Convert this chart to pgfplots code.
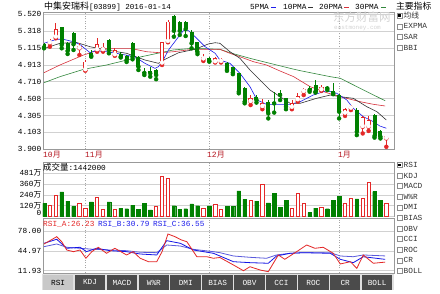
\documentclass[border=0pt]{standalone}
\usepackage{fontspec}
\setmainfont{Liberation Mono}
\newfontfamily\cjk{Noto Sans CJK SC}
\usepackage{pgfplots}
\usepackage{pgfplotstable}
\pgfplotsset{compat=1.18}
\definecolor{cred}{RGB}{228,40,40}
\definecolor{cgreen}{RGB}{0,128,0}
\definecolor{ma5}{RGB}{30,30,235}
\definecolor{ma10}{RGB}{50,50,50}
\definecolor{ma20}{RGB}{215,50,60}
\definecolor{ma30}{RGB}{50,135,60}
\definecolor{mon}{RGB}{180,20,30}
\definecolor{tabdark}{RGB}{75,75,75}
\definecolor{tablight}{RGB}{200,200,200}
\newcommand\tf{\fontsize{7.8}{9}\selectfont}

\pgfplotstableread{
i O H L C
1 5.173 5.218 5.129 5.203
2 5.242 5.410 5.230 5.338
6 5.110 5.170 5.030 5.140
7 4.850 4.970 4.842 4.950
9 5.090 5.237 5.069 5.158
10 5.090 5.170 5.070 5.129
12 5.030 5.110 5.020 5.090
20 4.930 5.190 4.910 5.182
21 5.189 5.449 5.182 5.429
27 4.980 5.040 4.958 5.010
29 4.946 5.000 4.940 4.990
30 4.950 4.990 4.940 4.980
35 4.470 4.550 4.430 4.518
37 4.410 4.500 4.380 4.458
42 4.400 4.490 4.380 4.458
43 4.490 4.570 4.470 4.540
44 4.590 4.640 4.550 4.620
47 4.610 4.670 4.600 4.650
51 4.330 4.400 4.300 4.380
52 4.390 4.430 4.370 4.420
54 4.170 4.300 4.090 4.290
55 4.170 4.300 4.120 4.250
58 4.030 4.065 3.930 4.060
}\updata

\pgfplotstableread{
i O H L C
0 5.158 5.170 5.110 5.122
3 5.362 5.369 5.110 5.150
4 5.177 5.180 5.042 5.078
5 5.290 5.300 5.090 5.158
8 5.050 5.090 5.009 5.021
11 5.209 5.220 5.050 5.090
13 5.040 5.060 5.000 5.010
14 5.018 5.030 4.946 4.970
15 5.170 5.190 4.978 5.009
16 5.009 5.020 4.850 4.890
17 4.830 4.874 4.790 4.815
18 4.838 4.890 4.770 4.810
19 4.850 4.860 4.740 4.790
22 5.497 5.509 5.249 5.320
23 5.429 5.440 5.270 5.320
24 5.429 5.440 5.257 5.340
25 5.309 5.330 5.110 5.170
26 5.185 5.190 5.040 5.066
28 4.993 5.000 4.950 4.958
31 4.930 4.940 4.840 4.850
32 4.882 4.890 4.800 4.818
33 4.810 4.820 4.571 4.590
34 4.631 4.650 4.451 4.470
36 4.523 4.550 4.460 4.490
38 4.470 4.490 4.270 4.330
39 4.470 4.590 4.340 4.450
40 4.570 4.610 4.490 4.550
41 4.511 4.520 4.380 4.410
45 4.630 4.660 4.590 4.610
46 4.670 4.730 4.580 4.590
48 4.650 4.660 4.610 4.630
49 4.600 4.700 4.560 4.570
50 4.550 4.560 4.270 4.350
53 4.370 4.390 4.070 4.110
56 4.310 4.320 4.040 4.060
57 4.120 4.130 4.030 4.050
}\downdata

\pgfplotstableread{
i v
0 142
3 273
4 169
5 112
8 162
11 162
13 92
14 85
15 123
16 81
17 142
18 73
22 119
23 81
24 85
25 139
26 119
28 116
31 112
32 112
33 285
34 189
36 169
38 150
39 254
40 104
41 181
45 42
46 92
48 85
49 181
50 227
53 196
56 277
57 181
}\volg

\pgfplotstableread{
i v
1 123
2 235
6 142
7 85
9 212
10 81
12 73
19 112
20 447
21 427
27 89
29 139
30 73
35 181
37 354
42 92
43 254
44 150
47 104
51 150
52 196
54 196
55 381
58 144.2
}\volr

\pgfplotsset{panel/.style={
  scale only axis, anchor=south west, width=351bp,
  xmin=-0.17, xmax=59.3,
  axis line style={draw=black!40},
  major tick length=0pt,
  xtick={7,28,50}, xticklabels={,,},
  xmajorgrids, ymajorgrids,
  x grid style={black!35, dash pattern=on 1bp off 1.5bp},
  y grid style={black!18},
  yticklabel style={font=\tf, text=black, inner sep=1.5bp},
}}
\pgfplotsset{cndl/.style={only marks, mark=none, error bars/.cd, y dir=plus, y explicit, error mark=none,
  error bar style={line width=#1}}}

\begin{document}
\begin{tikzpicture}
\useasboundingbox (0,0) rectangle (440bp,294bp);
\fill[white] (0,0) rectangle (440bp,294bp);

% ---------------- main price panel
\begin{axis}[panel, at={(43bp,144.7bp)}, height=137.3bp,
  ymin=3.9, ymax=5.545,
  ytick={3.9,4.1025,4.305,4.5075,4.71,4.9125,5.115,5.3175,5.52},
  yticklabels={3.900,4.103,4.305,4.508,4.710,4.913,5.115,5.318,5.520}]
% moving averages
\addplot[ma30, line width=0.6bp] table {
x y
0 4.698
2.7 4.770
6.7 4.858
10.6 4.910
15.1 4.988
19.7 5.057
21.9 5.090
25.3 5.110
29.8 5.098
31.5 5.057
34.9 4.990
38.3 4.930
41.7 4.870
43.4 4.842
48.5 4.770
50.2 4.751
54.7 4.590
57.8 4.482
};
\addplot[ma20, line width=0.6bp] table {
x y
0 4.818
2.7 4.910
6.7 5.030
8.4 5.069
10.6 5.110
14.6 5.110
17.4 5.069
19.7 5.057
21.9 5.069
25.3 5.098
29.8 5.098
31.5 5.050
33.2 5.009
35.5 4.949
37.7 4.910
40.0 4.838
42.3 4.770
45.1 4.650
47.9 4.578
50.2 4.530
53.6 4.470
55.8 4.439
57.8 4.419
};
\addplot[ma10, line width=0.6bp] table {
x y
0 5.107
2.7 5.170
5.5 5.180
7.8 5.129
10.6 5.090
14.0 5.050
17.1 4.970
19.4 4.930
20.5 4.978
22.8 5.057
25.6 5.098
27.8 5.161
29.0 5.177
29.8 5.170
31.5 5.069
33.2 4.990
34.9 4.850
36.6 4.730
38.3 4.610
40.0 4.530
41.7 4.451
43.4 4.451
46.2 4.511
48.5 4.550
50.2 4.530
52.4 4.511
54.7 4.410
56.4 4.351
58 4.251
};
\addplot[ma5, line width=0.6bp] table {
x y
0 5.170
2.15 5.218
3.27 5.218
4.97 5.189
6.1 5.155
7.8 5.057
8.64 5.081
10.6 5.069
12.9 5.042
14.6 5.018
15.4 5.009
17.1 4.930
18.8 4.870
19.4 4.890
20.2 4.970
21.1 5.090
22.8 5.249
23.6 5.321
24.5 5.321
25.6 5.249
27.3 5.129
29.0 5.050
29.8 4.970
31.5 4.930
33.2 4.810
34.9 4.650
36.1 4.491
37.7 4.439
41.7 4.439
43.4 4.470
45.6 4.550
47.9 4.602
49.6 4.571
51.3 4.491
52.4 4.391
54.1 4.291
55.8 4.231
56.9 4.179
58 4.152
};
% wicks
\addplot[cgreen, cndl=0.7bp]
  table[x=i, y=L, y error expr=\thisrow{H}-\thisrow{L}] \downdata;
\addplot[cred, cndl=0.7bp]
  table[x=i, y=L, y error expr=\thisrow{H}-\thisrow{L}] \updata;
% bodies
\addplot[cgreen, cndl=4bp]
  table[x=i, y=C, y error expr=\thisrow{O}-\thisrow{C}] \downdata;
\addplot[cred, cndl=4.2bp]
  table[x=i, y=O, y error expr=\thisrow{C}-\thisrow{O}] \updata;
\addplot[white, cndl=2.6bp]
  table[x=i, y expr=\thisrow{O}+0.0096, y error expr=\thisrow{C}-\thisrow{O}-0.0192] \updata;
\end{axis}

% ---------------- volume panel
\begin{axis}[panel, at={(43bp,77.7bp)}, height=54.3bp,
  ymin=0, ymax=607.6,
  ytick={120,240,360,481},
  yticklabels={120{\cjk 万},240{\cjk 万},360{\cjk 万},481{\cjk 万}},
  extra y ticks={0}, extra y tick labels={0},
  extra y tick style={yticklabel style={yshift=3bp}}]
\addplot[ybar, bar shift=0pt, bar width=3.6bp, fill=cgreen, draw=cgreen, line width=0.3bp] table[x=i,y=v] \volg;
\addplot[ybar, bar shift=0pt, bar width=3.4bp, fill=white, draw=cred, line width=0.7bp] table[x=i,y=v] \volr;
\end{axis}

% ---------------- RSI panel
\begin{axis}[panel, at={(43bp,21bp)}, height=55bp,
  ymin=8.1, ymax=99.6,
  ytick={11.93,44.97,78},
  yticklabels={11.93,44.97,78.00}]
\addplot[color={rgb,255:red,90;green,90;blue,220}, line width=0.8bp] table {
x y
0 51.9
2.15 56.4
3.85 50.9
6.1 49.2
8.4 47.5
11.2 46.4
14 45.2
16.3 42.6
19.1 41.9
20.8 54.7
23.1 53.0
25.3 47.5
28.7 43.6
29.8 41.9
32.1 36.4
34.9 34.2
37.7 32.6
39.4 38.1
41.7 40.9
44 41.9
48.5 41.9
50.2 36.4
52.4 35.2
54.1 38.1
57.8 36.5
};
\addplot[color={rgb,255:red,20;green,20;blue,230}, line width=0.8bp] table {
x y
0 57.5
2.15 64.2
3.85 49.2
6.1 50.9
7.2 43.6
8.9 49.2
11.2 45.2
14 43.6
16.3 39.7
19.1 38.1
20.8 61.9
23.1 57.5
25.3 46.4
28.7 40.9
29.8 36.4
32.1 26.9
34.9 25.3
38 24.3
39.4 36.4
41.7 40.9
44 41.9
48.5 40.9
50.2 30.9
52.4 25.3
54.1 35.2
57.8 30.8
};
\addplot[cred, line width=0.8bp] table {
x y
0 56.4
1 61.9
2.15 68.5
3 60.2
3.85 46.4
5 43.6
6.1 46.4
7.1 32.6
8.1 43.6
9.2 50.9
10.6 40.9
12 49.2
14 38.1
15.1 43.6
16.3 32.6
17.7 26.9
19.1 26.9
20 43.6
21 73.0
22.2 68.5
23.3 63.0
24.2 60.2
25.9 35.2
27.6 35.2
28.7 32.6
29.8 33.9
32.1 21.4
33.8 11.9
34.9 18.6
36.6 13.1
38 10.3
39.7 38.1
40.8 30.9
42.8 43.6
44.5 54.7
45.9 49.2
47.3 50.9
49 40.9
50.2 23.1
51.9 26.9
53 15.9
54.1 38.1
55.8 24.3
57.8 26.2
};
\end{axis}

% ---------------- texts and decorations (image coordinates)
\begin{scope}[x=1bp, y=-1bp, shift={(0,294bp)}]
\node[anchor=west, inner sep=0] at (44,6.5) {{\cjk\fontsize{9}{9}\selectfont 中集安瑞科}\fontsize{7.6}{8}\selectfont[03899] 2016-01-14};
% watermark
\node[anchor=west, inner sep=0, text=black!17] at (333,17.5) {\cjk\fontsize{11.5}{12}\selectfont 东方财富网};
\node[anchor=west, inner sep=0, text=black!17] at (334,28.5) {\fontsize{6}{6}\selectfont eastmoney.com};
% legend
\node[anchor=west, inner sep=0, font=\tf] at (250,7) {5PMA};
\draw[ma5, line width=1.6bp] (271,7.5) -- (275.5,7.5);
\node[anchor=west, inner sep=0, font=\tf] at (283,7) {10PMA};
\draw[ma10, line width=1.6bp] (308,7.5) -- (312.5,7.5);
\node[anchor=west, inner sep=0, font=\tf] at (319,7) {20PMA};
\draw[ma20, line width=1.6bp] (344,7.5) -- (348.5,7.5);
\node[anchor=west, inner sep=0, font=\tf] at (355,7) {30PMA};
\draw[ma30, line width=1.6bp] (381,7.5) -- (385.5,7.5);
% month labels
\node[anchor=west, inner sep=0, text=mon] at (43,155) {\fontsize{8}{8}\selectfont 10{\cjk 月}};
\node[anchor=west, inner sep=0, text=mon] at (85,155) {\fontsize{8}{8}\selectfont 11{\cjk 月}};
\node[anchor=west, inner sep=0, text=mon] at (207,155) {\fontsize{8}{8}\selectfont 12{\cjk 月}};
\node[anchor=west, inner sep=0, text=mon] at (338,155) {\fontsize{8}{8}\selectfont 1{\cjk 月}};
% panel titles
\node[anchor=west, inner sep=0] at (43,167.5) {{\cjk\fontsize{8.5}{9}\selectfont 成交量}\tf:1442000};
\node[anchor=west, inner sep=0, text=cred, font=\tf] at (43,224.5) {RSI\_A:26.23};
\node[anchor=west, inner sep=0, text=ma5, font=\tf] at (98,224.5) {RSI\_B:30.79};
\node[anchor=west, inner sep=0, text=ma5, font=\tf] at (153,224.5) {RSI\_C:36.55};
% right side panel
\node[anchor=west, inner sep=0] at (396,6) {\cjk\fontsize{8.8}{9}\selectfont 主要指标};
\foreach \t [count=\k from 0] in {{\cjk 均线},EXPMA,SAR,BBI} {
  \pgfmathsetmacro\yy{15.5+10.8*\k}
  \draw[black!45, line width=0.4bp] (397,\yy-2.5) rectangle (402,\yy+2.5);
  \node[anchor=west, inner sep=0, font=\tf, text=black!80] at (403.5,\yy) {\t};
}
\fill[black] (398.3,14.2) rectangle (400.7,16.8);
\foreach \t [count=\k from 0] in {RSI,KDJ,MACD,W\%R,DMI,BIAS,OBV,CCI,ROC,CR,BOLL} {
  \pgfmathsetmacro\yy{165+10.6*\k}
  \draw[black!45, line width=0.4bp] (397,\yy-2.5) rectangle (402,\yy+2.5);
  \node[anchor=west, inner sep=0, font=\tf, text=black!80] at (403.5,\yy) {\t};
}
\fill[black] (398.3,163.7) rectangle (400.7,166.3);
% tab bar
\fill[black!12] (42,274) rectangle (394,290.5);
\foreach \t [count=\k from 0] in {RSI,KDJ,MACD,W\%R,DMI,BIAS,OBV,CCI,ROC,CR,BOLL} {
  \pgfmathsetmacro\xa{42.7+31.9*\k}
  \node[anchor=north west, inner sep=0, fill=tabdark, text=white, font=\tf,
        minimum width=30.5bp, minimum height=14.5bp] at (\xa,275) {\t};
}
\node[anchor=north west, inner sep=0, fill=tablight, text=black, font=\tf,
      minimum width=30.5bp, minimum height=14.5bp] at (42.7,275) {RSI};
\end{scope}
\end{tikzpicture}
\end{document}
